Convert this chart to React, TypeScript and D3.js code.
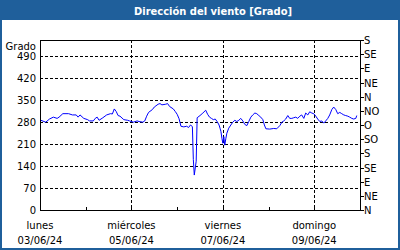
import React from "react";
import * as d3 from "d3";

const TITLE = "Dirección del viento [Grado]";
const Y_UNIT = "Grado";
const START = new Date(2024, 5, 3);
const END = new Date(2024, 5, 10);

// hours after 03/06/24 00:00
const hours = [
  0, 3, 5, 7, 9, 10, 12, 15, 17, 19, 20, 21, 23, 25, 26, 28, 29, 30, 31, 33, 35, 37, 38, 39, 40, 41,
  42, 44, 46, 47, 49, 51, 52, 54, 55, 56, 57, 59, 60, 62, 63, 64, 66, 67, 68, 70, 71, 72, 73, 74,
  75.5, 77, 78, 79, 80, 80.5, 81, 82, 82.5, 84, 85.5, 87, 88, 89, 90, 91, 92, 93, 94, 94.5, 95, 95.5,
  96, 96.5, 97, 97.6, 98.1, 99.1, 100.2, 101.2, 102.3, 103.3, 104.4, 105.4, 106.5, 107.5, 108.6,
  109.6, 110.7, 111.7, 112.8, 113.8, 114.9, 115.9, 117, 117.8, 118.6, 120.6, 122.7, 124.3, 125.9,
  127, 128, 129, 130.1, 131.1, 132.2, 133.2, 134.3, 135.3, 136.4, 137.4, 138.5, 139.5, 140.6,
  141.6, 142.7, 143.7, 144.8, 145.8, 146.9, 147.9, 149, 150, 151.1, 152.1, 153.2, 154.2, 155.3,
  156.3, 157.4, 158.4, 159.5, 160.5, 161.6, 162.6, 163.7, 164.7, 165.8, 166.3,
];
const direction = [
  286, 279, 289, 295, 291, 295, 306, 306, 302, 302, 295, 302, 291, 287, 283, 283, 291, 295, 285, 293, 302, 306, 305, 321, 313, 300,
  298, 287, 285, 283, 279, 283, 281, 279, 283, 298, 310, 319, 327, 336, 338, 334, 336, 338, 329, 321, 313, 304, 290, 266,
  264, 266, 262, 270, 265, 160, 111, 155, 293, 300, 308, 317, 304, 295, 291, 287, 289, 281, 270, 260, 249, 228,
  212, 233, 206, 228, 244, 260, 270, 279, 285, 281, 285, 291, 283, 272, 268,
  281, 295, 302, 308, 306, 300, 295, 287, 270, 258, 257, 259, 258, 268,
  279, 283, 289, 300, 291, 291, 293, 295, 291, 298, 302, 291, 308, 302,
  312, 308, 306, 298, 289, 281, 283, 276, 283, 291, 302, 319, 327, 319,
  306, 310, 306, 302, 300, 298, 295, 291, 289, 291, 300,
];

const leftTicks = [0, 70, 140, 210, 280, 350, 420, 490];
const rightTicks = [0, 45, 90, 135, 180, 225, 270, 315, 360, 405, 450, 495, 540];
const rightLabels = ["N", "NE", "E", "SE", "S", "SO", "O", "NO", "N", "NE", "E", "SE", "S"];
const dayLabelIdx = [0, 2, 4, 6];
const dayNames = ["lunes", "miércoles", "viernes", "domingo"];
const dayDates = ["03/06/24", "05/06/24", "07/06/24", "09/06/24"];

const W = 400;
const H = 250;
const L = 40;
const R = 360;
const T = 40;
const B = 210;
const BLUE = "#1f5f9b";
const FONT = "DejaVu Sans, Verdana, sans-serif";

export default function App() {
  const x = d3.scaleTime().domain([START, END]).range([L, R]);
  const y = d3.scaleLinear().domain([0, 540]).range([B, T]);
  const pts = hours.map((h, i) => ({ t: new Date(START.getTime() + h * 3600e3), v: direction[i] }));
  const line = d3
    .line<{ t: Date; v: number }>()
    .x((d) => x(d.t))
    .y((d) => y(d.v));
  const days = d3.timeDay.range(START, d3.timeDay.offset(END, 1));

  return (
    <svg width={W} height={H} style={{ position: "absolute", left: 0, top: 0 }} fontFamily={FONT}>
      <rect x={0} y={0} width={W} height={H} fill="#fff" />
      <rect x={0} y={0} width={W} height={20} fill={BLUE} />
      <rect x={1} y={1} width={W - 2} height={H - 2} fill="none" stroke={BLUE} strokeWidth={2} />
      <text x={213} y={15} textAnchor="middle" fill="#fff" fontWeight="bold" fontSize={11} textLength={158} lengthAdjust="spacingAndGlyphs">
        {TITLE}
      </text>

      {leftTicks.slice(1).map((v) => (
        <line key={"h" + v} x1={L} x2={R} y1={Math.round(y(v)) + 0.5} y2={Math.round(y(v)) + 0.5} stroke="#000" strokeDasharray="3,2" />
      ))}
      {dayLabelIdx.slice(1).map((d) => {
        const xx = Math.round(x(d3.timeDay.offset(START, d))) + 0.5;
        return <line key={"v" + d} x1={xx} x2={xx} y1={T} y2={B} stroke="#000" strokeDasharray="3,2" />;
      })}
      {days.map((d, i) => {
        const xx = Math.round(x(d)) + 0.5;
        return <line key={"t" + i} x1={xx} x2={xx} y1={B} y2={B - 3} stroke="#000" />;
      })}
      {rightTicks.map((v) => (
        <line key={"r" + v} x1={R} x2={R + 4} y1={Math.round(y(v)) + 0.5} y2={Math.round(y(v)) + 0.5} stroke="#000" />
      ))}

      <path d={line(pts) || ""} fill="none" stroke="#0000ff" strokeWidth={1} />

      <rect x={L + 0.5} y={T + 0.5} width={R - L} height={B - T} fill="none" stroke="#000" />

      <g fontSize={10} fill="#000">
        <text x={36} y={y(540) + 10} textAnchor="end">{Y_UNIT}</text>
        {leftTicks.map((v) => (
          <text key={"lt" + v} x={36} y={y(v) + 4} textAnchor="end">{v}</text>
        ))}
        {rightTicks.map((v, i) => (
          <text key={"rt" + v} x={364} y={y(v) + 4}>{rightLabels[i]}</text>
        ))}
        {dayLabelIdx.map((d, i) => {
          const xx = x(d3.timeDay.offset(START, d));
          return (
            <g key={"d" + d}>
              <text x={xx} y={229} textAnchor="middle">{dayNames[i]}</text>
              <text x={xx} y={244} textAnchor="middle">{dayDates[i]}</text>
            </g>
          );
        })}
      </g>
    </svg>
  );
}
